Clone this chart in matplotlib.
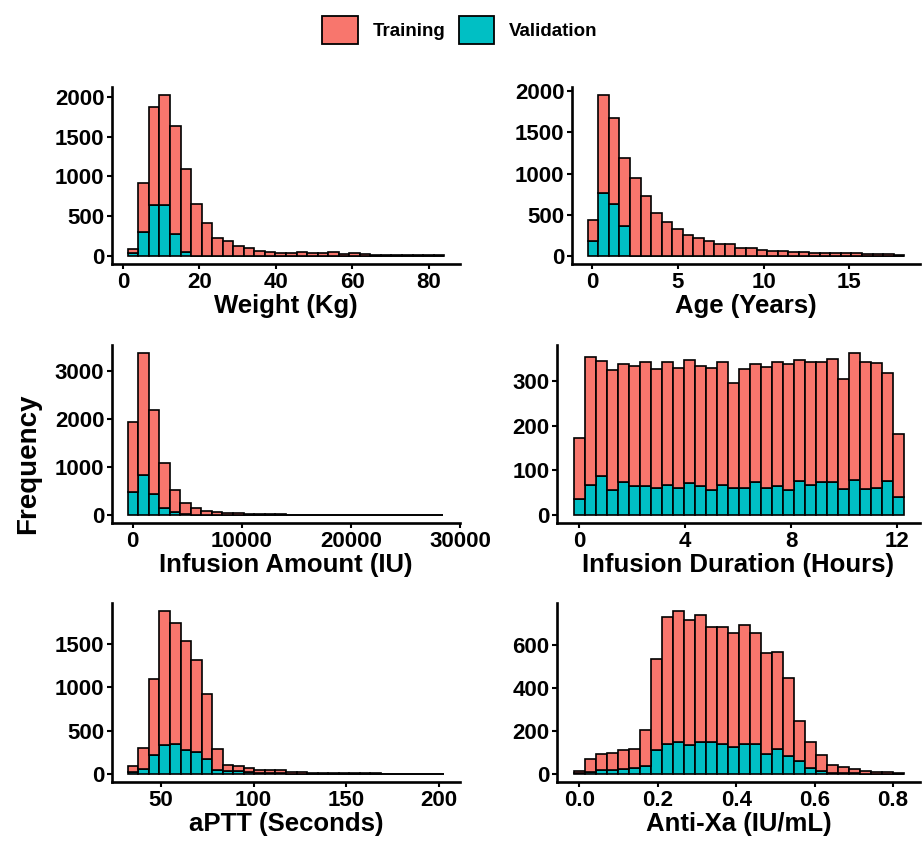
import matplotlib
matplotlib.use("Agg")
import matplotlib.pyplot as plt
from matplotlib.patches import Patch
import numpy as np

# colours used by ggplot for two groups
TRAIN_COLOR = "#F8766D"
VALID_COLOR = "#00BFC4"

# Weight (Kg)
weight_range = (1.3, 84.0)
weight_train = [58, 615, 1232, 1385, 1351, 1049, 652, 419, 222, 181, 124, 99, 58, 50, 37,
                37, 45, 37, 37, 45, 25, 33, 20, 15, 12, 10, 10, 8, 8, 6]
weight_valid = [33, 306, 640, 640, 281, 50, 5, 2, 1, 1, 0, 0, 0, 0, 0,
                0, 0, 0, 0, 0, 0, 0, 0, 0, 0, 0, 0, 0, 0, 0]

# Age (Years)
age_range = (-0.25, 18.2)
age_train = [259, 1183, 1044, 824, 944, 729, 526, 406, 331, 255, 223, 179, 147, 139, 92,
             92, 68, 60, 64, 48, 44, 40, 40, 32, 32, 32, 28, 28, 20, 8]
age_valid = [179, 769, 629, 367, 0, 0, 0, 0, 0, 0, 0, 0, 0, 0, 0,
             0, 0, 0, 0, 0, 0, 0, 0, 0, 0, 0, 0, 0, 0, 0]

# Infusion Amount (IU)
amount_range = (-455, 28485)
amount_train = [1459, 2541, 1740, 945, 472, 243, 133, 73, 61, 40, 34, 27, 15, 12, 10,
                8, 6, 8, 5, 4, 4, 3, 3, 3, 2, 2, 2, 1, 1, 1]
amount_valid = [486, 829, 438, 137, 55, 10, 4, 2, 1, 1, 0, 0, 0, 0, 0,
                0, 0, 0, 0, 0, 0, 0, 0, 0, 0, 0, 0, 0, 0, 0]

# Infusion Duration (Hours)
duration_range = (-0.21, 12.23)
duration_train = [138, 287, 257, 268, 265, 269, 279, 267, 277, 269, 276, 270, 274, 278, 236,
                  266, 266, 272, 278, 282, 271, 278, 271, 277, 247, 285, 286, 279, 244, 141]
duration_valid = [35, 67, 88, 56, 73, 64, 65, 61, 67, 60, 71, 64, 55, 66, 60,
                  61, 73, 60, 64, 56, 76, 66, 73, 73, 58, 78, 58, 61, 75, 40]

# aPTT (Seconds)
aptt_range = (32.1, 203.0)
aptt_train = [61, 246, 877, 1550, 1400, 1265, 1054, 742, 239, 73, 61, 50, 31, 37, 45,
              23, 16, 13, 13, 13, 11, 11, 7, 5, 4, 3, 3, 2, 2, 2]
aptt_valid = [27, 54, 215, 331, 342, 273, 258, 177, 46, 35, 31, 23, 15, 5, 5,
              4, 3, 2, 2, 2, 1, 1, 1, 0, 0, 0, 0, 0, 0, 0]

# Anti-Xa (IU/mL)
antixa_range = (-0.015, 0.827)
antixa_train = [6, 60, 71, 78, 89, 90, 166, 423, 592, 608, 583, 594, 538, 546, 533,
                553, 515, 470, 453, 366, 188, 121, 78, 38, 28, 20, 13, 8, 8, 6]
antixa_valid = [6, 11, 20, 17, 23, 28, 36, 110, 141, 150, 136, 147, 147, 138, 124,
                140, 141, 93, 116, 81, 59, 26, 12, 4, 3, 2, 1, 1, 0, 0]

weight_xticks = [0, 20, 40, 60, 80]
age_xticks = [0, 5, 10, 15]
amount_xticks = [0, 10000, 20000, 30000]
duration_xticks = [0, 4, 8, 12]
aptt_xticks = [50, 100, 150, 200]
antixa_xticks = [0.0, 0.2, 0.4, 0.6, 0.8]
antixa_xlabels = ["0.0", "0.2", "0.4", "0.6", "0.8"]


def draw_hist(ax, bin_range, train, valid, xlabel, xticks, yticks, xticklabels=None):
    """ stacked histogram: validation at the bottom, training on top"""
    edges = np.linspace(bin_range[0], bin_range[1], len(train) + 1)
    width = edges[1] - edges[0]
    ax.bar(edges[:-1], valid, width=width, align="edge",
           color=VALID_COLOR, edgecolor="black", linewidth=1.2)
    ax.bar(edges[:-1], train, width=width, align="edge", bottom=valid,
           color=TRAIN_COLOR, edgecolor="black", linewidth=1.2)

    # ggplot style 5% expansion on both axes
    ax.use_sticky_edges = False
    ax.margins(x=0.05, y=0.05)

    ax.set_xticks(xticks)
    if xticklabels is not None:
        ax.set_xticklabels(xticklabels)
    ax.set_yticks(yticks)
    ax.set_xlabel(xlabel, fontsize=18.5, fontweight="bold", labelpad=1)

    for side in ["top", "right"]:
        ax.spines[side].set_visible(False)
    for side in ["left", "bottom"]:
        ax.spines[side].set_linewidth(1.9)
    ax.tick_params(width=1.5, length=3.5, labelsize=16, pad=2)
    for lab in ax.get_xticklabels() + ax.get_yticklabels():
        lab.set_fontweight("bold")


def main():
    plt.rcParams["font.family"] = ["Liberation Sans", "DejaVu Sans"]
    fig = plt.figure(figsize=(9.24, 8.43), dpi=100)

    H = 843
    W = 924

    def box(left, right, top, bottom):
        return [left / W, 1 - bottom / H, (right - left) / W, (bottom - top) / H]

    ax1 = fig.add_axes(box(112, 460, 87, 264))
    ax2 = fig.add_axes(box(572, 920, 87, 264))
    ax3 = fig.add_axes(box(112, 460, 345, 523))
    ax4 = fig.add_axes(box(557, 920, 345, 523))
    ax5 = fig.add_axes(box(112, 460, 603, 782))
    ax6 = fig.add_axes(box(557, 920, 603, 782))

    draw_hist(ax1, weight_range, weight_train, weight_valid, "Weight (Kg)",
              weight_xticks, [0, 500, 1000, 1500, 2000])
    draw_hist(ax2, age_range, age_train, age_valid, "Age (Years)",
              age_xticks, [0, 500, 1000, 1500, 2000])
    draw_hist(ax3, amount_range, amount_train, amount_valid, "Infusion Amount (IU)",
              amount_xticks, [0, 1000, 2000, 3000])
    draw_hist(ax4, duration_range, duration_train, duration_valid,
              "Infusion Duration (Hours)", duration_xticks, [0, 100, 200, 300])
    draw_hist(ax5, aptt_range, aptt_train, aptt_valid, "aPTT (Seconds)",
              aptt_xticks, [0, 500, 1000, 1500])
    draw_hist(ax6, antixa_range, antixa_train, antixa_valid, "Anti-Xa (IU/mL)",
              antixa_xticks, [0, 200, 400, 600], antixa_xlabels)

    # shared y label
    fig.text(28 / W, 1 - 464 / H, "Frequency", rotation=90, fontsize=20,
             fontweight="bold", ha="center", va="center")

    # legend on top
    handles = [Patch(facecolor=TRAIN_COLOR, edgecolor="black", linewidth=1.3),
               Patch(facecolor=VALID_COLOR, edgecolor="black", linewidth=1.3)]
    fig.legend(handles, ["Training", "Validation"], loc="center",
               bbox_to_anchor=(460 / W, 1 - 30 / H), ncol=2, frameon=False,
               prop={"size": 13.5, "weight": "bold"},
               handlelength=1.9, handleheight=1.9, handletextpad=0.8,
               columnspacing=0.7)

    fig.savefig("out.png", dpi=100)


if __name__ == "__main__":
    main()
